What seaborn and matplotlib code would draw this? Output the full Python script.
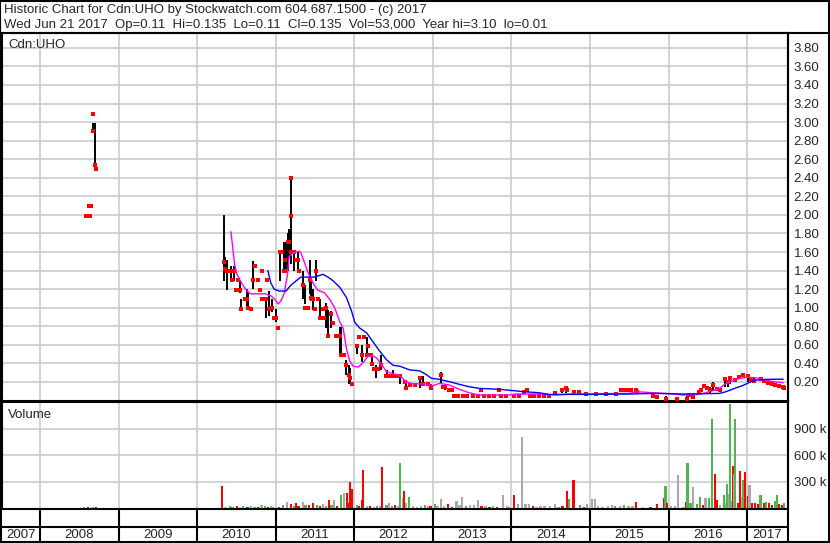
import numpy as np
import pandas as pd
import matplotlib
matplotlib.use("Agg")
import matplotlib.pyplot as plt
from matplotlib.lines import Line2D
import seaborn as sns

sns.set_style("white")
plt.rcParams['font.family'] = ['Liberation Sans', 'DejaVu Sans']

# daily price bars, time as decimal year
bar_t = [2008.58, 2008.62, 2008.63, 2008.65, 2008.67, 2008.675, 2008.70, 2008.71,
         2010.34, 2010.356, 2010.378, 2010.41, 2010.43, 2010.44, 2010.468, 2010.49, 2010.52, 2010.55,
         2010.56, 2010.605, 2010.635, 2010.65, 2010.687, 2010.712, 2010.74, 2010.777, 2010.80, 2010.82,
         2010.83, 2010.85, 2010.87, 2010.89, 2010.92, 2010.957, 2010.978,
         2011.0, 2011.03, 2011.056, 2011.077, 2011.10, 2011.12, 2011.137, 2011.15, 2011.17, 2011.188,
         2011.19, 2011.20, 2011.227, 2011.257, 2011.28, 2011.30, 2011.35, 2011.378, 2011.41, 2011.43,
         2011.45, 2011.48, 2011.494, 2011.515, 2011.536, 2011.567, 2011.60, 2011.62, 2011.644, 2011.665,
         2011.708, 2011.73, 2011.77, 2011.815, 2011.837, 2011.87, 2011.90, 2011.93, 2011.95, 2011.974,
         2012.04, 2012.063, 2012.093, 2012.127, 2012.156, 2012.177, 2012.207, 2012.224, 2012.25, 2012.27,
         2012.30, 2012.346, 2012.40, 2012.418, 2012.45, 2012.494, 2012.536, 2012.586, 2012.64, 2012.66,
         2012.705, 2012.768, 2012.84, 2012.88, 2012.937, 2012.97,
         2013.105, 2013.127, 2013.15, 2013.20, 2013.245, 2013.27, 2013.32, 2013.38, 2013.44, 2013.51,
         2013.57, 2013.61, 2013.65, 2013.72, 2013.78, 2013.84, 2013.87, 2013.93,
         2014.03, 2014.10, 2014.16, 2014.20, 2014.23, 2014.29, 2014.35, 2014.42, 2014.48, 2014.55,
         2014.64, 2014.69, 2014.71, 2014.79, 2014.86, 2014.95,
         2015.08, 2015.20, 2015.33, 2015.39, 2015.41, 2015.46, 2015.48, 2015.52, 2015.58, 2015.60,
         2015.80, 2015.85, 2015.97,
         2016.11, 2016.24, 2016.26, 2016.31, 2016.39, 2016.41, 2016.455, 2016.485, 2016.53, 2016.56,
         2016.61, 2016.65, 2016.72, 2016.75, 2016.78, 2016.84, 2016.89, 2016.95,
         2017.01, 2017.05, 2017.09, 2017.18, 2017.22, 2017.26, 2017.31, 2017.36, 2017.40, 2017.45, 2017.47]
bar_hi = [1.99, 2.10, 1.99, 2.10, 3.09, 2.99, 2.99, 2.49,
          2.00, 1.55, 1.51, 1.40, 1.45, 1.30, 1.45, 1.19, 1.30, 1.30,
          1.09, 1.09, 1.20, 1.16, 0.99, 1.50, 1.45, 1.30, 1.19, 1.40,
          1.09, 1.09, 1.09, 1.30, 1.18, 1.09, 0.89,
          0.99, 0.78, 1.60, 1.60, 1.71, 1.51, 1.71, 1.80, 1.85, 2.40,
          2.40, 1.85, 1.62, 1.51, 1.60, 1.40, 1.40, 1.24, 1.00, 1.51,
          1.29, 1.20, 0.99, 1.51, 1.09, 1.09, 0.99, 0.89, 1.05, 0.98,
          0.96, 0.84, 0.69, 0.79, 0.79, 0.49, 0.44, 0.38, 0.35, 0.18,
          0.60, 0.68, 0.60, 0.68, 0.68, 0.59, 0.49, 0.49, 0.34, 0.38,
          0.34, 0.49, 0.26, 0.33, 0.26, 0.33, 0.26, 0.26, 0.20, 0.20,
          0.17, 0.17, 0.24, 0.26, 0.18, 0.18,
          0.31, 0.15, 0.15, 0.11, 0.11, 0.05, 0.05, 0.05, 0.05, 0.05,
          0.05, 0.11, 0.05, 0.05, 0.05, 0.11, 0.05, 0.05,
          0.05, 0.05, 0.11, 0.11, 0.05, 0.05, 0.05, 0.05, 0.05, 0.10,
          0.11, 0.13, 0.11, 0.09, 0.09, 0.07,
          0.07, 0.07, 0.07, 0.11, 0.11, 0.11, 0.11, 0.11, 0.11, 0.09,
          0.05, 0.04, 0.05,
          0.04, 0.05, 0.06, 0.04, 0.11, 0.11, 0.16, 0.13, 0.15, 0.20,
          0.12, 0.11, 0.22, 0.21, 0.25, 0.22, 0.25, 0.30,
          0.26, 0.25, 0.24, 0.23, 0.21, 0.19, 0.18, 0.17, 0.16, 0.15, 0.135]
bar_lo = [1.99, 2.10, 1.99, 2.10, 3.09, 2.90, 2.50, 2.49,
          1.29, 1.40, 1.19, 1.40, 1.32, 1.30, 1.29, 1.19, 1.30, 1.16,
          0.98, 1.09, 0.98, 1.00, 0.99, 1.20, 1.45, 1.30, 1.19, 1.40,
          1.09, 1.09, 0.89, 1.30, 0.91, 0.95, 0.89,
          0.85, 0.78, 1.29, 1.60, 1.40, 1.51, 1.40, 1.40, 1.55, 2.40,
          1.62, 1.47, 1.40, 1.51, 1.40, 1.40, 1.09, 1.04, 1.00, 1.15,
          1.07, 0.98, 0.99, 1.29, 1.09, 0.89, 0.99, 0.89, 0.78, 0.69,
          0.78, 0.84, 0.69, 0.49, 0.49, 0.49, 0.27, 0.18, 0.20, 0.18,
          0.50, 0.68, 0.42, 0.68, 0.49, 0.59, 0.49, 0.38, 0.34, 0.24,
          0.34, 0.33, 0.26, 0.24, 0.26, 0.26, 0.26, 0.18, 0.20, 0.11,
          0.17, 0.17, 0.13, 0.17, 0.18, 0.11,
          0.19, 0.15, 0.11, 0.11, 0.11, 0.05, 0.05, 0.05, 0.05, 0.05,
          0.05, 0.11, 0.05, 0.05, 0.05, 0.11, 0.05, 0.05,
          0.05, 0.05, 0.08, 0.11, 0.05, 0.05, 0.05, 0.05, 0.05, 0.06,
          0.08, 0.08, 0.11, 0.09, 0.09, 0.07,
          0.07, 0.07, 0.07, 0.11, 0.11, 0.11, 0.11, 0.11, 0.11, 0.09,
          0.05, 0.04, 0.01,
          0.01, 0.01, 0.06, 0.04, 0.06, 0.11, 0.16, 0.13, 0.08, 0.10,
          0.12, 0.11, 0.15, 0.15, 0.18, 0.22, 0.25, 0.26,
          0.20, 0.20, 0.20, 0.23, 0.21, 0.19, 0.18, 0.17, 0.16, 0.15, 0.11]
bar_cl = [1.99, 2.10, 1.99, 2.10, 3.09, 2.90, 2.54, 2.49,
          1.49, 1.42, 1.40, 1.40, 1.40, 1.30, 1.40, 1.19, 1.30, 1.19,
          0.99, 1.09, 1.09, 1.00, 0.99, 1.30, 1.45, 1.30, 1.19, 1.40,
          1.09, 1.09, 1.09, 1.30, 0.99, 1.00, 0.89,
          0.89, 0.78, 1.60, 1.60, 1.40, 1.51, 1.40, 1.71, 1.71, 2.40,
          1.99, 1.60, 1.60, 1.51, 1.51, 1.40, 1.24, 1.00, 1.00, 1.30,
          1.10, 1.09, 0.99, 1.40, 1.09, 0.89, 0.99, 0.89, 1.00, 0.69,
          0.93, 0.84, 0.69, 0.69, 0.49, 0.49, 0.38, 0.27, 0.24, 0.18,
          0.59, 0.68, 0.49, 0.68, 0.49, 0.59, 0.49, 0.39, 0.34, 0.34,
          0.34, 0.38, 0.26, 0.26, 0.26, 0.26, 0.26, 0.26, 0.20, 0.13,
          0.17, 0.17, 0.24, 0.18, 0.18, 0.13,
          0.27, 0.15, 0.15, 0.11, 0.11, 0.05, 0.05, 0.05, 0.05, 0.05,
          0.05, 0.11, 0.05, 0.05, 0.05, 0.11, 0.05, 0.05,
          0.05, 0.05, 0.09, 0.11, 0.05, 0.05, 0.05, 0.05, 0.05, 0.08,
          0.11, 0.13, 0.11, 0.09, 0.09, 0.07,
          0.07, 0.07, 0.07, 0.11, 0.11, 0.11, 0.11, 0.11, 0.11, 0.09,
          0.05, 0.04, 0.02,
          0.02, 0.02, 0.06, 0.04, 0.09, 0.11, 0.16, 0.13, 0.11, 0.17,
          0.12, 0.11, 0.23, 0.20, 0.24, 0.22, 0.25, 0.27,
          0.26, 0.23, 0.21, 0.23, 0.21, 0.19, 0.18, 0.17, 0.16, 0.15, 0.135]

# short moving average (magenta)
ma1_t = [2010.43, 2010.476, 2010.506, 2010.55, 2010.614, 2010.678, 2010.87, 2010.936, 2010.99,
         2011.03, 2011.064, 2011.107, 2011.15, 2011.17, 2011.215, 2011.30, 2011.32, 2011.365, 2011.41,
         2011.45, 2011.494, 2011.536, 2011.62, 2011.687, 2011.75, 2011.815, 2011.858, 2011.90, 2011.944,
         2011.987, 2012.05, 2012.114, 2012.177, 2012.24, 2012.283, 2012.346, 2012.41, 2012.494, 2012.578,
         2012.66, 2012.747, 2012.916, 2013.0, 2013.084, 2013.21, 2013.34, 2013.46, 2013.59, 2013.97,
         2014.055, 2014.35, 2014.57, 2014.74, 2015.5, 2015.6, 2015.80, 2015.97, 2016.18, 2016.39,
         2016.52, 2016.65, 2016.73, 2016.86, 2016.99, 2017.11, 2017.2, 2017.33, 2017.46]
ma1_v = [1.82, 1.47, 1.36, 1.29, 1.20, 1.15, 1.15, 1.13, 1.09,
         1.04, 1.07, 1.15, 1.36, 1.55, 1.59, 1.61, 1.59, 1.49, 1.38,
         1.31, 1.24, 1.19, 1.16, 1.09, 1.00, 0.85, 0.78, 0.56, 0.42,
         0.37, 0.36, 0.41, 0.48, 0.48, 0.46, 0.39, 0.31, 0.29, 0.27,
         0.20, 0.18, 0.18, 0.16, 0.185, 0.167, 0.12, 0.084, 0.059, 0.059,
         0.07, 0.07, 0.059, 0.07, 0.077, 0.095, 0.084, 0.077, 0.059, 0.066,
         0.095, 0.131, 0.185, 0.228, 0.25, 0.246, 0.228, 0.203, 0.192]

# long moving average (blue)
ma2_t = [2010.90, 2010.936, 2010.98, 2011.043, 2011.13, 2011.19, 2011.26, 2011.32, 2011.494,
         2011.60, 2011.665, 2011.73, 2011.815, 2011.90, 2011.966, 2012.008, 2012.07, 2012.156, 2012.24,
         2012.325, 2012.41, 2012.494, 2012.578, 2012.705, 2012.83, 2012.916, 2012.98, 2013.084, 2013.21,
         2013.34, 2013.46, 2013.59, 2013.865, 2014.16, 2014.35, 2014.48, 2014.99, 2015.5, 2015.80,
         2016.22, 2016.65, 2016.73, 2016.84, 2016.94, 2017.05, 2017.11, 2017.24, 2017.46]
ma2_v = [1.40, 1.27, 1.20, 1.18, 1.18, 1.24, 1.29, 1.33, 1.33,
         1.36, 1.33, 1.29, 1.22, 1.11, 0.96, 0.84, 0.78, 0.73, 0.63,
         0.53, 0.44, 0.38, 0.37, 0.33, 0.32, 0.28, 0.24, 0.228, 0.203,
         0.174, 0.149, 0.131, 0.12, 0.095, 0.084, 0.066, 0.066, 0.07, 0.077,
         0.07, 0.077, 0.095, 0.131, 0.16, 0.203, 0.22, 0.228, 0.23]

# daily volume: r = down, g = up, n = unchanged
vol_t = [2008.56, 2008.61, 2008.67, 2008.71,
         2010.32, 2010.36, 2010.42, 2010.45, 2010.51, 2010.55, 2010.58, 2010.64, 2010.69, 2010.73,
         2010.77, 2010.82, 2010.86, 2010.90, 2010.94, 2010.97,
         2011.04, 2011.09, 2011.14, 2011.19, 2011.23, 2011.26, 2011.29, 2011.35, 2011.38, 2011.42,
         2011.47, 2011.53, 2011.56, 2011.60, 2011.64, 2011.68, 2011.71, 2011.74, 2011.78, 2011.83,
         2011.87, 2011.91, 2011.94, 2011.95, 2011.97,
         2012.03, 2012.06, 2012.10, 2012.11, 2012.16, 2012.20, 2012.25, 2012.29, 2012.33, 2012.35,
         2012.41, 2012.44, 2012.48, 2012.52, 2012.56, 2012.58, 2012.62, 2012.63, 2012.66, 2012.70,
         2012.75, 2012.80, 2012.85, 2012.90, 2012.94, 2012.97,
         2013.03, 2013.06, 2013.10, 2013.14, 2013.19, 2013.24, 2013.30, 2013.34, 2013.37, 2013.42,
         2013.47, 2013.52, 2013.57, 2013.62, 2013.67, 2013.72, 2013.77, 2013.82, 2013.89, 2013.94, 2013.97,
         2014.03, 2014.08, 2014.13, 2014.18, 2014.22, 2014.27, 2014.32, 2014.37, 2014.42, 2014.49,
         2014.55, 2014.60, 2014.65, 2014.71, 2014.73, 2014.79, 2014.87, 2014.92, 2014.96,
         2015.03, 2015.06, 2015.10, 2015.16, 2015.23, 2015.28, 2015.32, 2015.38, 2015.43, 2015.49,
         2015.54, 2015.59, 2015.67, 2015.77, 2015.85, 2015.94, 2015.96, 2015.98,
         2016.03, 2016.08, 2016.12, 2016.18, 2016.22, 2016.24, 2016.28, 2016.31, 2016.36, 2016.40,
         2016.44, 2016.47, 2016.51, 2016.55, 2016.59, 2016.62, 2016.65, 2016.71, 2016.73, 2016.74,
         2016.77, 2016.78, 2016.81, 2016.82, 2016.84, 2016.85, 2016.88, 2016.91, 2016.94, 2016.95, 2016.97,
         2017.01, 2017.03, 2017.06, 2017.10, 2017.14, 2017.17, 2017.21, 2017.24, 2017.28, 2017.32,
         2017.36, 2017.38, 2017.41, 2017.45, 2017.47]
vol_v = [10000, 10000, 12000, 8000,
         250000, 15000, 20000, 15000, 18000, 15000, 20000, 15000, 25000, 15000,
         10000, 30000, 20000, 12000, 25000, 15000,
         15000, 30000, 70000, 40000, 20000, 60000, 25000, 70000, 35000, 30000,
         55000, 30000, 20000, 40000, 20000, 96000, 30000, 96000, 20000, 142000,
         165000, 165000, 60000, 292000, 215000,
         30000, 20000, 95000, 430000, 25000, 20000, 15000, 25000, 20000, 465000,
         30000, 60000, 20000, 30000, 25000, 510000, 110000, 188000, 60000, 120000,
         20000, 15000, 20000, 30000, 25000, 20000,
         45000, 25000, 107000, 20000, 50000, 15000, 80000, 30000, 120000, 25000,
         35000, 30000, 90000, 20000, 25000, 15000, 20000, 15000, 142000, 20000, 15000,
         142000, 50000, 800000, 40000, 45000, 20000, 15000, 20000, 25000, 20000,
         45000, 15000, 20000, 188000, 100000, 320000, 30000, 15000, 40000,
         100000, 100000, 20000, 15000, 25000, 35000, 25000, 20000, 35000, 25000,
         25000, 65000, 10000, 15000, 40000, 115000, 254000, 55000,
         20000, 20000, 373000, 10000, 65000, 511000, 60000, 234000, 50000, 130000,
         30000, 115000, 115000, 1007000, 381000, 90000, 30000, 150000, 60000, 270000,
         160000, 1177000, 80000, 477000, 380000, 1007000, 60000, 419000, 130000, 319000, 407000,
         140000, 261000, 60000, 55000, 40000, 142000, 55000, 65000, 55000, 35000,
         80000, 142000, 50000, 30000, 55000]
vol_c = ["g", "r", "g", "r",
         "r", "n", "g", "g", "r", "n", "g", "r", "n", "g",
         "r", "n", "g", "r", "n", "g",
         "r", "g", "n", "r", "g", "r", "r", "n", "g", "r",
         "r", "g", "r", "n", "g", "r", "g", "n", "r", "g",
         "n", "r", "r", "r", "r",
         "g", "r", "r", "r", "n", "r", "n", "g", "n", "r",
         "g", "n", "g", "r", "n", "g", "n", "r", "n", "g",
         "n", "n", "n", "g", "n", "r",
         "g", "n", "n", "n", "r", "r", "n", "n", "n", "g",
         "n", "n", "n", "r", "n", "r", "n", "r", "n", "n", "g",
         "r", "n", "n", "n", "n", "r", "n", "n", "n", "n",
         "n", "g", "r", "r", "g", "r", "g", "r", "n",
         "n", "n", "n", "n", "n", "n", "g", "n", "g", "n",
         "n", "r", "n", "r", "r", "r", "g", "r",
         "n", "n", "n", "g", "r", "g", "g", "n", "g", "g",
         "r", "n", "g", "g", "r", "r", "n", "g", "n", "g",
         "n", "g", "n", "r", "n", "g", "r", "r", "n", "g", "r",
         "r", "n", "r", "r", "r", "g", "r", "g", "r", "r",
         "g", "g", "r", "r", "g"]

price_ticks = [0.2, 0.4, 0.6, 0.8, 1.0, 1.2, 1.4, 1.6, 1.8, 2.0, 2.2, 2.4, 2.6, 2.8, 3.0, 3.2, 3.4, 3.6, 3.8]
vol_ticks = [300000, 600000, 900000]
vol_labels = ["300 k", "600 k", "900 k"]
years = [2007, 2008, 2009, 2010, 2011, 2012, 2013, 2014, 2015, 2016, 2017]

title_1 = "Historic Chart for Cdn:UHO by Stockwatch.com 604.687.1500 - (c) 2017"
title_2 = "Wed Jun 21 2017  Op=0.11  Hi=0.135  Lo=0.11  Cl=0.135  Vol=53,000  Year hi=3.10  lo=0.01"

W, H = 830, 543
x0, x1 = 2007.516, 2017.52
grid_c = "#c8c8c8"
col_map = {"r": "#ff0000", "g": "#4cb84c", "n": "#a8a8a8"}


def fx(px):
    return px / W


def fy(py):
    return 1 - py / H


fig = plt.figure(figsize=(W / 100, H / 100), dpi=100)

ax_p = fig.add_axes([fx(2), fy(401), fx(786), (401 - 33) / H])
ax_v = fig.add_axes([fx(2), fy(509), fx(786), (509 - 402) / H])
ax_y = fig.add_axes([fx(2), fy(541), fx(786), (541 - 509) / H])

boundaries = years[1:]

# price panel
prices = pd.DataFrame({"t": bar_t, "hi": bar_hi, "lo": bar_lo, "cl": bar_cl})
rng = prices[prices.hi > prices.lo]
ax_p.vlines(rng.t, rng.lo, rng.hi, color="black", lw=1.4, zorder=3)
sns.scatterplot(data=prices, x="t", y="cl", ax=ax_p, color="#ff0000", marker="s",
                s=6, linewidth=0, zorder=4)
sns.lineplot(x=ma1_t, y=ma1_v, ax=ax_p, color="#ff00ff", lw=1.0, zorder=5)
sns.lineplot(x=ma2_t, y=ma2_v, ax=ax_p, color="#0000ff", lw=1.0, zorder=5)

ax_p.set_xlim(x0, x1)
ax_p.set_ylim(-0.005, 3.96)
ax_p.set_xticks(boundaries)
ax_p.set_xticklabels([])
ax_p.set_yticks(price_ticks)
ax_p.set_yticklabels(["%.2f" % v for v in price_ticks])
ax_p.text(0.008, 0.983, "Cdn:UHO", transform=ax_p.transAxes, ha="left", va="top", fontsize=9.5)

# volume panel
vol = pd.DataFrame({"t": vol_t, "v": vol_v, "c": vol_c})
ax_v.bar(vol.t, vol.v, width=0.028, color=[col_map[c] for c in vol.c], linewidth=0, zorder=3)
ax_v.set_xlim(x0, x1)
ax_v.set_ylim(-11300, 1200000)
ax_v.set_xticks(boundaries)
ax_v.set_xticklabels([])
ax_v.set_yticks(vol_ticks)
ax_v.set_yticklabels(vol_labels)
ax_v.text(0.008, 0.93, "Volume", transform=ax_v.transAxes, ha="left", va="top", fontsize=9.5)

for ax in (ax_p, ax_v):
    ax.set_xlabel("")
    ax.set_ylabel("")
    ax.grid(True, color=grid_c, lw=1.1, zorder=0)
    ax.set_axisbelow(True)
    ax.yaxis.tick_right()
    ax.tick_params(axis="y", length=0, pad=4, labelsize=9.5)
    ax.tick_params(axis="x", length=0)
    for s in ax.spines.values():
        s.set_color("black")
        s.set_linewidth(1.5)

# year row
ax_y.set_xlim(x0, x1)
ax_y.set_ylim(0, 1)
ax_y.axis("off")
ax_y.axhline(14 / 32, color="black", lw=1.5)
for b in boundaries:
    ax_y.axvline(b, color="black", lw=1.5)
edges = [x0] + boundaries + [x1]
for i, yr in enumerate(years):
    ax_y.text((edges[i] + edges[i + 1]) / 2, 0.2, str(yr), ha="center", va="center", fontsize=9.5)

# frame and header
frame = [((0, 1), (0, H)), ((829, 829), (0, H)), ((0, W), (1, 1)), ((0, W), (542, 542)),
         ((0, W), (33, 33)), ((788, 788), (33, H))]
for xs, ys in frame:
    fig.add_artist(Line2D([fx(v) for v in xs], [fy(v) for v in ys], color="black", lw=1.5))

fig.text(fx(4), fy(10), title_1, ha="left", va="center", fontsize=9.5)
fig.text(fx(4), fy(25), title_2, ha="left", va="center", fontsize=9.5)

fig.savefig("out.png", dpi=100, facecolor="white")
